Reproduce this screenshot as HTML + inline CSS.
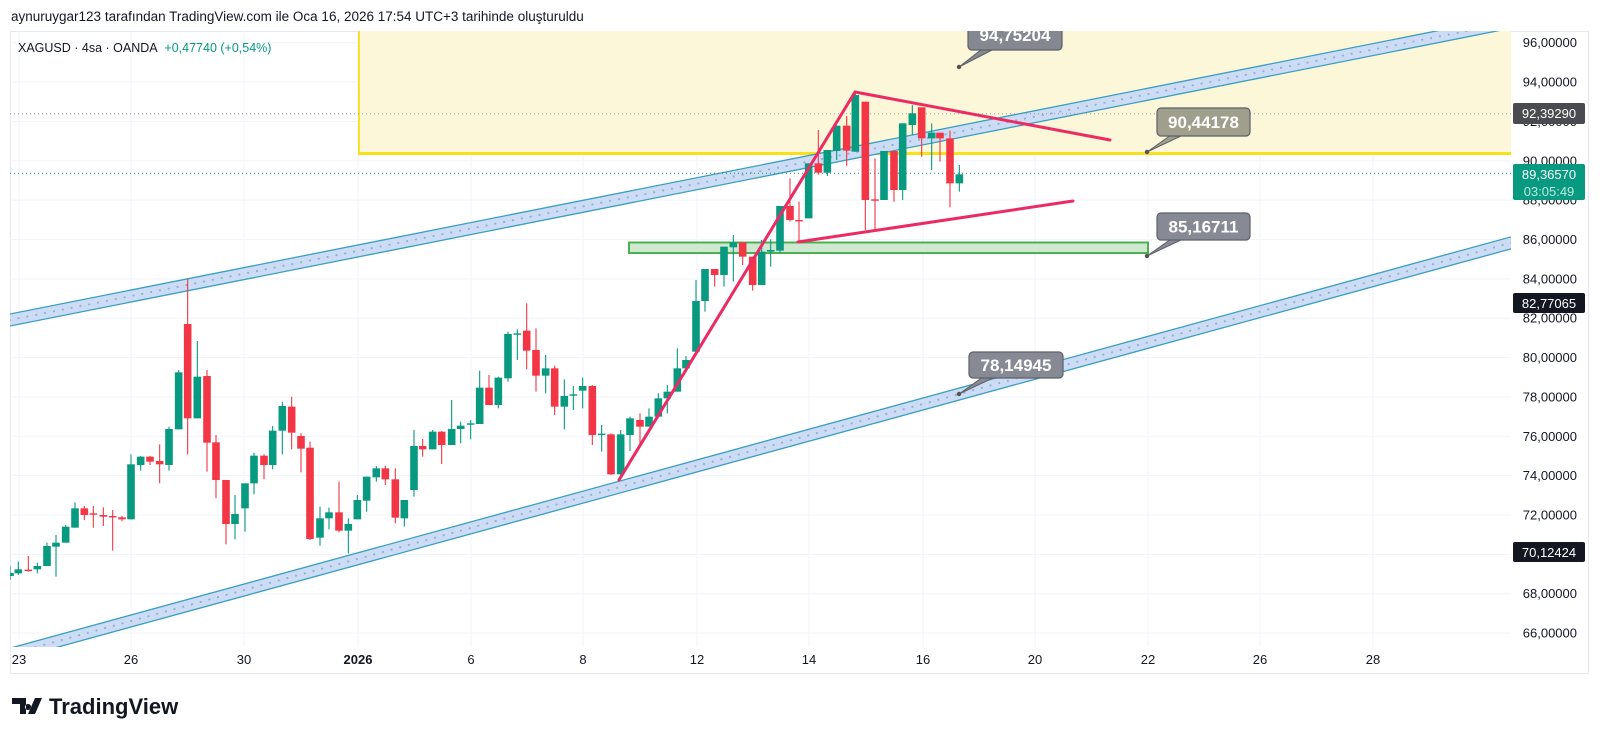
<!DOCTYPE html>
<html><head><meta charset="utf-8"><style>
html,body{margin:0;padding:0;background:#fff;}
svg{display:block;font-family:"Liberation Sans",sans-serif;}
</style></head><body>
<svg id="s" width="1600" height="741" viewBox="0 0 1600 741" xmlns="http://www.w3.org/2000/svg">
<defs><clipPath id="plot"><rect x="10" y="31" width="1501" height="616"/></clipPath></defs>
<rect width="1600" height="741" fill="#fff"/>
<text x="11" y="21" font-size="13.5" fill="#131722">aynuruygar123 tarafından TradingView.com ile Oca 16, 2026 17:54 UTC+3 tarihinde oluşturuldu</text>
<rect x="10.5" y="31.5" width="1578" height="642" fill="none" stroke="#e6e8ee"/>
<g id="grid" stroke="#f0f3fa" stroke-width="1"></g>
<g clip-path="url(#plot)" id="draw"></g>
<g id="axis" font-size="13" fill="#131722"></g>
<text x="18" y="52" font-size="12.5" fill="#131722">XAGUSD · 4sa · OANDA <tspan fill="#089981" dx="4">+0,47740 (+0,54%)</tspan></text>
<g transform="translate(12,698)">
<path d="M0 0h14v16h-6v-10h-8z M16 6a3 3 0 1 0 .1 0z M23 0h7l-7 16h-7z" fill="#131722"/>
<text x="37" y="16" font-size="22" font-weight="bold" fill="#131722">TradingView</text>
</g>
</svg>
<script>
const NS="http://www.w3.org/2000/svg";
function el(p,t,a,txt){const e=document.createElementNS(NS,t);for(const k in a)e.setAttribute(k,a[k]);if(txt!==undefined)e.textContent=txt;p.appendChild(e);return e;}
const grid=document.getElementById('grid'),draw=document.getElementById('draw'),axis=document.getElementById('axis');
const Y=p=>42.7+(96-p)*19.68;
for(let p=96;p>=66;p-=2){el(grid,'line',{x1:10,x2:1511,y1:Y(p),y2:Y(p)});}
const dates=[[19,'23'],[131,'26'],[244,'30'],[358,'2026',1],[471,'6'],[583,'8'],[697,'12'],[809,'14'],[923,'16'],[1035,'20'],[1148,'22'],[1260,'26'],[1373,'28']];
dates.forEach(d=>{el(grid,'line',{x1:d[0],x2:d[0],y1:31,y2:647});});
dates.forEach(d=>{const t=el(axis,'text',{x:d[0],y:664,'text-anchor':'middle'},d[1]);if(d[2])t.setAttribute('font-weight','bold');});
for(let p=96;p>=66;p-=2){el(axis,'text',{x:1577,y:Y(p)+4.5,'text-anchor':'end'},p+',00000');}
el(draw,'rect',{x:358,y:20,width:1160,height:134,fill:'#fdf7d9'});
el(draw,'line',{x1:359,y1:20,x2:359,y2:154,stroke:'#f5e22a','stroke-width':2});
el(draw,'line',{x1:358,y1:153.5,x2:1511,y2:153.5,stroke:'#f8e11c','stroke-width':3});
function channel(x1,y1,x2,y2){
  const h=6;
  el(draw,'polygon',{points:`${x1},${y1-h} ${x2},${y2-h} ${x2},${y2+h} ${x1},${y1+h}`,fill:'#cddcf5'});
  el(draw,'line',{x1:x1,y1:y1-h,x2:x2,y2:y2-h,stroke:'#3a9fc0','stroke-width':1.3});
  el(draw,'line',{x1:x1,y1:y1+h,x2:x2,y2:y2+h,stroke:'#3a9fc0','stroke-width':1.3});
  el(draw,'line',{x1:x1,y1:y1,x2:x2,y2:y2,stroke:'#8eaed4','stroke-width':1.8,'stroke-dasharray':'2 7'});
}
channel(0,322,1520,20.4);
channel(0,656.9,1520,240.4);
el(draw,'line',{x1:10,x2:1511,y1:113.7,y2:113.7,stroke:'#9598a1','stroke-dasharray':'1 3'});
el(draw,'line',{x1:10,x2:1511,y1:173.3,y2:173.3,stroke:'#089981','stroke-dasharray':'1 3'});
el(draw,'rect',{x:629,y:242.5,width:519,height:10.5,fill:'#cfe9d0',stroke:'#4caf50','stroke-width':2});
const z4=[[55,940,928,905,945],[85,929,931,888,935],[112,928,918,908,940],[141,918,858,848,918],[168,860,848,825,950],[197,848,800,795,848],[225,803,745,727,803],[253,745,765,738,780],[280,760,764,738,803],[310,765,770,742,798],[338,768,772,750,872],[366,772,778,768,784],[393,778,613,583,778],[422,615,590,588,632],[450,590,605,588,615],[479,603,613,553,670],[507,615,507,500,632],[536,508,337,330,508],[563,192,475,57,583],[592,475,350,243,475],[621,348,548,330,635],[648,547,660,525,715],[678,660,792,660,853],[705,792,762,705,838],[735,745,670,670,815],[762,670,587,578,703],[792,587,615,583,658],[818,615,512,498,628],[847,512,438,425,583],[875,440,518,410,568],[903,528,566,520,637]];
const z5=[[30,503,777,485,780],[60,773,715,680,797],[87,715,697,683,748],[117,697,752,605,757],[145,752,732,715,820],[172,718,660,645,718],[200,662,590,590,695],[229,592,565,558,605],[256,565,598,557,615],[286,598,713,565,730],[313,715,660,660,740],[342,630,498,450,650],[368,498,508,477,530],[398,508,455,450,508],[425,455,495,453,552],[455,495,447,360,495],[482,447,437,425,490],[512,434,430,420,478],[539,432,323,272,432],[567,323,375,285,375],[595,375,293,290,385],[624,295,162,155,305],[652,163,160,148,240],[680,152,212,70,268],[708,210,287,145,335],[737,287,265,225,340],[764,265,380,257,405],[793,380,348,298,448],[820,345,343,318,390],[848,332,318,293,385]];
const z3=[[37,918,1065,915,1095],[65,1063,1061,1035,1115],[93,1063,1183,1060,1185],[122,1183,1063,1050,1185],[150,1065,1015,1010,1113],[180,1020,1040,1000,1095],[207,1040,1010,985,1040],[235,1010,955,940,1010],[262,955,935,915,1000],[292,935,865,805,935],[318,865,840,828,865],[348,815,663,600,818],[375,663,567,567,695],[404,567,585,567,620],[432,585,500,500,620],[460,502,487,465,605],[488,487,530,487,555],[518,530,615,530,632],[545,615,515,480,615],[572,515,510,478,560],[600,512,378,378,518],[630,378,420,295,425],[657,420,422,365,485],[686,415,250,250,415],[715,250,278,150,284],[742,278,210,210,288],[770,213,137,137,240],[800,137,212,108,258],[826,215,45,35,215],[856,65,360,65,450],[885,358,361,235,450],[912,360,213,213,360],[942,213,330,213,365],[968,330,130,130,360],[997,135,100,75,165],[1025,82,175,82,230],[1055,175,158,130,270],[1080,158,175,158,245],[1110,175,310,152,382],[1138,310,283,255,335]];
const cs=[];
cs.push([10,576,573,566,580]);
z4.forEach(c=>cs.push([c[0]/3,260+c[1]/3,260+c[2]/3,260+c[3]/3,260+c[4]/3]));
z5.forEach(c=>cs.push([300+c[0]/3,280+c[1]/3,280+c[2]/3,280+c[3]/3,280+c[4]/3]));
z3.forEach(c=>cs.push([580+c[0]/3,80+c[1]/3,80+c[2]/3,80+c[3]/3,80+c[4]/3]));
cs.forEach(c=>{const [x,o,cl,h,l]=c;const up=cl<o;const col=up?'#089981':'#f23645';
 el(draw,'line',{x1:x,x2:x,y1:h,y2:l,stroke:col,'stroke-width':1.1});
 const t=Math.min(o,cl),b=Math.max(o,cl);
 el(draw,'rect',{x:x-3.8,y:t,width:7.6,height:Math.max(1.4,b-t),fill:col});});
[[619,480,855,92],[855,92,1110,140],[798,242,1073,201]].forEach(l=>el(draw,'line',{x1:l[0],y1:l[1],x2:l[2],y2:l[3],stroke:'#ec2a63','stroke-width':3,'stroke-linecap':'round'}));
function callout(bx,by,bw,bh,px,py,txt,fill){
  el(draw,'path',{d:`M${bx+14},${by+bh-1} L${px},${py} L${bx+26},${by+bh-1}Z`,fill:fill,stroke:'#5d6068','stroke-width':1});
  el(draw,'rect',{x:bx,y:by,width:bw,height:bh,rx:4,fill:fill,stroke:'#5d6068','stroke-width':1.2});
  el(draw,'circle',{cx:px,cy:py,r:2.2,fill:'#555'});
  el(draw,'text',{x:bx+bw/2,y:by+bh/2+6,'text-anchor':'middle','font-size':17,'font-weight':'bold',fill:'#fff'},txt);
}
callout(968,20,94,30,959,67,'94,75204','#858891');
callout(1157,108,93,28,1147,152,'90,44178','#a09f8d');
callout(1157,213,93,27,1147,256,'85,16711','#878a94');
callout(969,352,94,26,959,394,'78,14945','#878a94');
function plabel(y,h,bg,lines){
  el(axis,'rect',{x:1513,y:y,width:72,height:h,fill:bg,rx:2});
  lines.forEach((t,i)=>el(axis,'text',{x:1549,y:y+15+i*17,'text-anchor':'middle',fill:i?'#bfe8df':'#fff','font-size':13},t));
}
plabel(103,21,'#4a4b50',['92,39290']);
plabel(164,36,'#089981',['89,36570','03:05:49']);
plabel(293,20,'#131722',['82,77065']);
plabel(542,20,'#131722',['70,12424']);
</script>
</body></html>
